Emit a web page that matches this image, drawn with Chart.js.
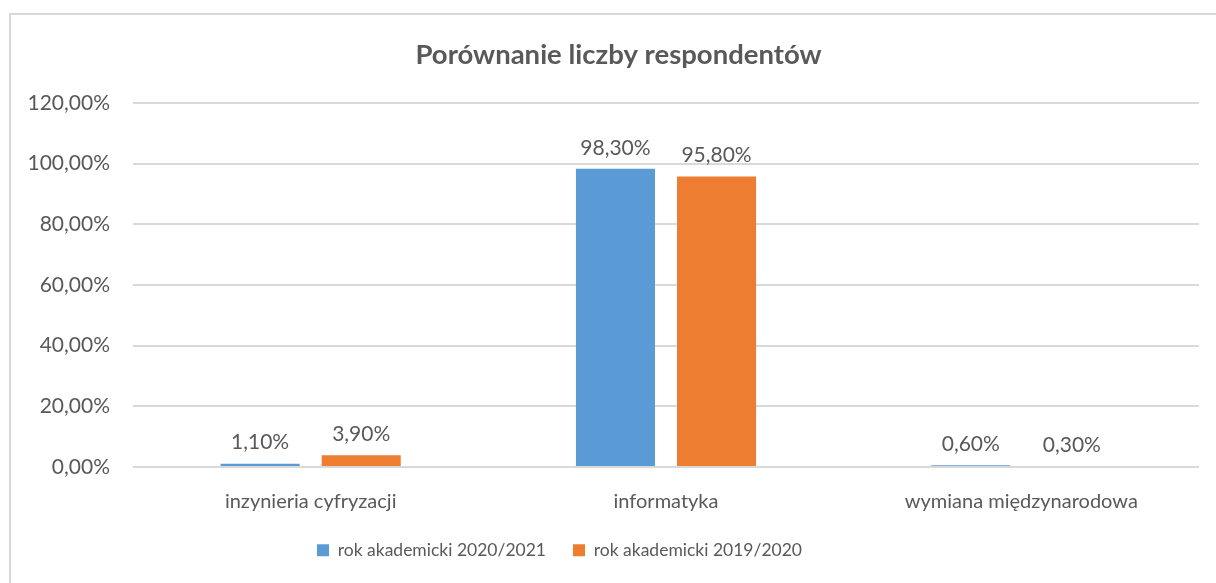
<!DOCTYPE html>
<html>
<head>
<meta charset="utf-8">
<script src="https://cdn.jsdelivr.net/npm/chart.js@4.4.1/dist/chart.umd.min.js"></script>
<style>
  html, body { margin: 0; padding: 0; background: #fff; }
  #wrap { position: relative; width: 1216px; height: 583px; overflow: hidden; }
  #frame { position: absolute; left: 9px; top: 13px; width: 1300px; height: 700px;
           border-left: 2px solid #d9d9d9; border-top: 2px solid #d9d9d9; }
  canvas { position: absolute; left: 0; top: 0; }
</style>
</head>
<body>
<div id="wrap">
  <div id="frame"></div>
  <canvas id="c" width="1216" height="583"></canvas>
</div>
<script>
const categories = ["inzynieria cyfryzacji", "informatyka", "wymiana międzynarodowa"];
const seriesNames = ["rok akademicki 2020/2021", "rok akademicki 2019/2020"];
const values2021 = [1.1, 98.3, 0.6];
const values2020 = [3.9, 95.8, 0.3];
const yTicks = [0, 20, 40, 60, 80, 100, 120];
const titleText = "Porównanie liczby respondentów";

const FONT = "Lato";
const TXT = "#595959";
const fmt = v => v.toFixed(2).replace('.', ',') + '%';

const dataLabels = {
  id: 'dataLabels',
  afterDatasetsDraw(chart) {
    const ctx = chart.ctx;
    ctx.save();
    ctx.font = "21px " + FONT;
    ctx.fillStyle = TXT;
    ctx.textAlign = 'center';
    ctx.textBaseline = 'middle';
    chart.data.datasets.forEach((ds, i) => {
      chart.getDatasetMeta(i).data.forEach((bar, j) => {
        ctx.fillText(fmt(ds.data[j]), bar.x, bar.y - 21);
      });
    });
    ctx.restore();
  }
};

// shift title and legend horizontally (the original frame is off-centre)
const boxShift = {
  id: 'boxShift',
  afterLayout(chart) {
    const t = chart.titleBlock, l = chart.legend;
    if (t) { t.left += 19; t.right += 19; }
    if (l) { l.left -= 40; l.right -= 40; }
  }
};

new Chart(document.getElementById('c'), {
  type: 'bar',
  data: {
    labels: categories,
    datasets: [
      { label: seriesNames[0], data: values2021, backgroundColor: '#5B9BD5' },
      { label: seriesNames[1], data: values2020, backgroundColor: '#ED7D31' }
    ]
  },
  options: {
    responsive: false,
    animation: false,
    devicePixelRatio: 1,
    categoryPercentage: 0.569,
    barPercentage: 0.782,
    layout: { padding: { left: 0, right: 17, top: 0, bottom: 14 } },
    plugins: {
      tooltip: { enabled: false },
      title: {
        display: true,
        text: titleText,
        color: TXT,
        font: { family: FONT, size: 27.5, weight: 'bold' },
        padding: { top: 38.5, bottom: 31.5 }
      },
      legend: {
        position: 'bottom',
        labels: {
          color: TXT,
          font: { family: FONT, size: 17.5 },
          boxWidth: 12,
          boxHeight: 12,
          padding: 27
        }
      }
    },
    scales: {
      x: {
        grid: { display: false, drawTicks: false },
        border: { display: false },
        ticks: { color: TXT, font: { family: FONT, size: 20 }, padding: 23 },
        afterFit(s) { s.height = 47.5; }
      },
      y: {
        min: 0, max: 120,
        grid: { color: '#d9d9d9', lineWidth: 2, drawTicks: false },
        border: { display: false },
        afterBuildTicks(s) { s.ticks = yTicks.map(v => ({ value: v })); },
        ticks: { color: TXT, font: { family: FONT, size: 21 }, padding: 23,
                 callback: v => fmt(v) },
        afterFit(s) { s.width = 133; }
      }
    }
  },
  plugins: [dataLabels, boxShift]
});
</script>
</body>
</html>
